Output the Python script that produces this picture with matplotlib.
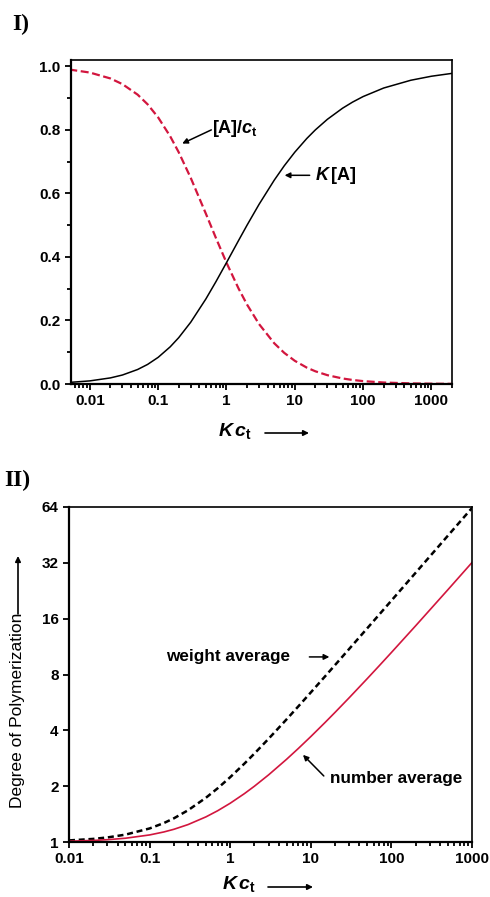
import matplotlib
matplotlib.use('Agg')
import matplotlib.pyplot as plt
from matplotlib.ticker import LogLocator, MultipleLocator, NullFormatter, NullLocator

plt.rcParams['font.family'] = ['Liberation Sans', 'DejaVu Sans']
plt.rcParams['mathtext.fontset'] = 'custom'
plt.rcParams['mathtext.it'] = 'Liberation Sans:bold:italic'
plt.rcParams['mathtext.rm'] = 'Liberation Sans:bold'
plt.rcParams['mathtext.bf'] = 'Liberation Sans:bold'

# ---------------- data ----------------
# Panel I
kct_top = [0.005, 0.01, 0.02, 0.03, 0.05, 0.07, 0.1, 0.15, 0.2, 0.3, 0.5, 0.7,
           1, 1.5, 2, 3, 5, 7, 10, 15, 20, 30, 50, 70, 100, 200, 500, 1000, 2000]
frac_monomer = [0.990, 0.9805, 0.9619, 0.9440, 0.9110, 0.8806, 0.8392, 0.7798,
                0.7295, 0.6487, 0.5359, 0.4599, 0.3820, 0.3009, 0.2500, 0.1886,
                0.1283, 0.0981, 0.0730, 0.0515, 0.0400, 0.0278, 0.0174, 0.0127,
                0.0091, 0.0047, 0.0019, 0.0010, 0.0005]
k_a = [0.00495, 0.0098, 0.0192, 0.0283, 0.0456, 0.0616, 0.0839, 0.1170,
       0.1459, 0.1946, 0.2679, 0.3219, 0.3820, 0.4514, 0.5000, 0.5657,
       0.6417, 0.6868, 0.7298, 0.7730, 0.8000, 0.8333, 0.8682, 0.8874,
       0.9049, 0.9318, 0.9563, 0.9689, 0.9779]

# Panel II
kct_bot = [0.01, 0.02, 0.03, 0.05, 0.1, 0.15, 0.2, 0.3, 0.5, 0.7, 1, 1.5, 2, 3,
           5, 7, 10, 15, 20, 30, 50, 70, 100, 200, 500, 1000]
dp_weight = [1.0198, 1.0392, 1.0583, 1.0954, 1.1832, 1.2649, 1.3416, 1.4832,
             1.7321, 1.9494, 2.2361, 2.6458, 3.0000, 3.6056, 4.5826, 5.3852,
             6.4031, 7.8102, 9.0000, 11.000, 14.177, 16.763, 20.025, 28.302,
             44.733, 63.253]
dp_number = [1.0099, 1.0196, 1.0292, 1.0477, 1.0916, 1.1325, 1.1708, 1.2416,
             1.3660, 1.4747, 1.6180, 1.8229, 2.0000, 2.3028, 2.7913, 3.1926,
             3.7016, 4.4051, 5.0000, 6.0000, 7.5887, 8.8815, 10.513, 14.651,
             22.866, 32.127]

x_ticks_top = [0.01, 0.1, 1, 10, 100, 1000]
x_labels_top = ['0.01', '0.1', '1', '10', '100', '1000']
y_ticks_top = [0.0, 0.2, 0.4, 0.6, 0.8, 1.0]
y_labels_top = ['0.0', '0.2', '0.4', '0.6', '0.8', '1.0']
x_ticks_bot = [0.01, 0.1, 1, 10, 100, 1000]
x_labels_bot = ['0.01', '0.1', '1', '10', '100', '1000']
y_ticks_bot = [1, 2, 4, 8, 16, 32, 64]
y_labels_bot = ['1', '2', '4', '8', '16', '32', '64']

# ---------------- figure ----------------
W, H = 490, 897
fig = plt.figure(figsize=(W / 100, H / 100), dpi=100)


def rect(l, t, r, b):
    return [l / W, 1 - b / H, (r - l) / W, (b - t) / H]


def fp(x, y):
    return (x / W, 1 - y / H)


RED = '#d2163e'

ax1 = fig.add_axes(rect(71, 60, 452, 384))
ax2 = fig.add_axes(rect(69, 507, 472, 842))

for ax in (ax1, ax2):
    for s in ('left', 'bottom'):
        ax.spines[s].set_linewidth(1.6)
    for s in ('top', 'right'):
        ax.spines[s].set_linewidth(1.2)
    ax.tick_params(which='both', direction='out', top=False, right=False,
                   width=1.3)
    ax.tick_params(which='major', length=4.5, labelsize=11, pad=3)
    ax.tick_params(which='minor', length=3)

# Panel I
ax1.plot(kct_top, frac_monomer, color=RED, lw=1.6, ls=(0, (3.6, 1.6)))
ax1.plot(kct_top, k_a, color='black', lw=1.1)
ax1.set_xscale('log')
ax1.set_xlim(0.0053, 2000)
ax1.set_ylim(0, 1.02)
ax1.set_xticks(x_ticks_top, x_labels_top, fontweight='bold')
ax1.xaxis.set_minor_locator(LogLocator(base=10, subs=range(2, 10), numticks=20))
ax1.xaxis.set_minor_formatter(NullFormatter())
ax1.set_yticks(y_ticks_top, y_labels_top, fontweight='bold')
ax1.yaxis.set_minor_locator(MultipleLocator(0.1))

arrow_kw = dict(arrowstyle='-|>', color='black', lw=1.1, mutation_scale=8,
                shrinkA=0, shrinkB=0)
ax1.annotate('', xy=(0.225, 0.757), xytext=(0.60, 0.80), arrowprops=arrow_kw)
ax1.text(0.62, 0.805, r'[A]/$c_{\rm t}$', fontsize=13, fontweight='bold',
         ha='left', va='center')
ax1.annotate('', xy=(7.1, 0.657), xytext=(16.5, 0.657), arrowprops=arrow_kw)
ax1.text(19.5, 0.657, r'$K\,$[A]', fontsize=13, fontweight='bold',
         ha='left', va='center')

# Panel II
ax2.plot(kct_bot, dp_weight, color='black', lw=1.8, ls=(0, (2.4, 1.5)))
ax2.plot(kct_bot, dp_number, color=RED, lw=1.2)
ax2.set_xscale('log')
ax2.set_yscale('log', base=2)
ax2.set_xlim(0.01, 1000)
ax2.set_ylim(1, 64)
ax2.set_xticks(x_ticks_bot, x_labels_bot, fontweight='bold')
ax2.xaxis.set_minor_locator(LogLocator(base=10, subs=range(2, 10), numticks=20))
ax2.xaxis.set_minor_formatter(NullFormatter())
ax2.set_yticks(y_ticks_bot, y_labels_bot, fontweight='bold')
ax2.yaxis.set_minor_locator(NullLocator())
ax2.yaxis.set_minor_formatter(NullFormatter())

ax2.text(0.158, 9.95, 'weight average', fontsize=12.3, fontweight='bold',
         ha='left', va='center')
ax2.annotate('', xy=(17.0, 9.95), xytext=(9.6, 9.95), arrowprops=arrow_kw)
ax2.text(17.3, 2.19, 'number average', fontsize=12.3, fontweight='bold',
         ha='left', va='center')
ax2.annotate('', xy=(8.0, 2.95), xytext=(14.5, 2.27), arrowprops=arrow_kw)


def fig_arrow(p_from, p_to):
    ax1.annotate('', xy=fp(*p_to), xytext=fp(*p_from), xycoords='figure fraction',
                 textcoords='figure fraction', annotation_clip=False,
                 arrowprops=dict(arrow_kw, lw=1.2))


# axis labels
fig.text(*fp(218, 431), r'$K\,c_{\rm t}$', fontsize=14, ha='left', va='center')
fig_arrow((265, 433), (309, 433))
fig.text(*fp(222, 884), r'$K\,c_{\rm t}$', fontsize=14, ha='left', va='center')
fig_arrow((268, 887), (313, 887))

fig.text(*fp(18, 808), 'Degree of Polymerization', fontsize=12.5, rotation=90,
         ha='center', va='bottom')
fig_arrow((18, 614), (18, 556))

# panel labels
fig.text(*fp(12, 24), 'I)', fontsize=17, fontweight='bold',
         family=['Liberation Serif', 'DejaVu Serif'], ha='left', va='center')
fig.text(*fp(4, 480), 'II)', fontsize=17, fontweight='bold',
         family=['Liberation Serif', 'DejaVu Serif'], ha='left', va='center')

fig.savefig('out.png', dpi=100)
